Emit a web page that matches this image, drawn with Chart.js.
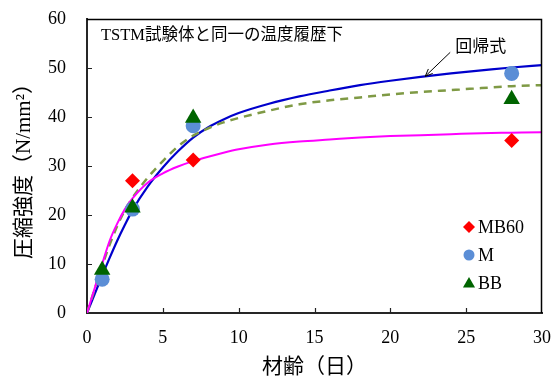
<!DOCTYPE html>
<html>
<head>
<meta charset="utf-8">
<script src="https://cdn.jsdelivr.net/npm/chart.js@4.4.1/dist/chart.umd.min.js"></script>
<style>
  html, body { margin: 0; padding: 0; background: #fff; }
</style>
</head>
<body>
<canvas id="c" width="556" height="376"></canvas>
<script>
// Measured compressive strength (N/mm²) by age (days)
const mb60Days = [3, 7, 28];
const mb60Strength = [27.0, 31.2, 35.2];
const testDays = [1, 3, 7, 28];
const mStrength = [6.9, 21.2, 38.2, 48.9];
const bbStrength = [8.8, 21.5, 39.8, 43.6];

// Regression curves (回帰式) sampled along the age axis
const curveAges = [0, 0.5, 1, 1.5, 2, 2.5, 3, 4, 5, 6, 7, 8, 9, 10, 12, 14, 16, 18, 20, 22, 24, 26, 28, 30];
const mFit    = [0, 3.8, 7.6, 11.3, 14.8, 18.0, 21.0, 25.8, 29.7, 33.0, 35.8, 37.9, 39.5, 40.8, 42.7, 44.2, 45.4, 46.5, 47.4, 48.2, 48.9, 49.5, 50.1, 50.6];
const mb60Fit = [0, 5.0, 10.0, 14.8, 18.3, 21.2, 23.4, 26.6, 28.5, 29.9, 31.0, 31.9, 32.7, 33.4, 34.4, 35.0, 35.4, 35.8, 36.1, 36.3, 36.5, 36.7, 36.8, 36.9];
const bbFit   = [0, 4.8, 9.6, 14.0, 17.8, 21.0, 23.5, 27.6, 31.0, 34.0, 36.2, 37.7, 38.9, 39.8, 41.3, 42.6, 43.4, 44.0, 44.6, 45.1, 45.5, 45.9, 46.3, 46.5];

// Axis ticks
const xTicks = [0, 5, 10, 15, 20, 25, 30];
const yTicks = [0, 10, 20, 30, 40, 50, 60];

const chartTitle = 'TSTM試験体と同一の温度履歴下';
const fitLabel = '回帰式';
const xTitle = '材齢（日）';
const yTitle = '圧縮強度（N/mm²）';

const SERIF = "'Liberation Serif', 'Noto Sans CJK JP', serif";
const GOTHIC = "'Noto Sans CJK JP', sans-serif";

const pts = (xs, ys) => xs.map((x, i) => ({ x: x, y: ys[i] }));

const curve = (label, ys, color, width, dash) => ({
  type: 'line', label: label, data: pts(curveAges, ys),
  borderColor: color, borderWidth: width, borderDash: dash || [],
  pointRadius: 0, showLine: true, fill: false,
  cubicInterpolationMode: 'monotone', order: 10
});

const markers = (label, xs, ys, style, color, radius, order) => ({
  type: 'line', label: label, data: pts(xs, ys), showLine: false,
  pointStyle: style, pointRadius: radius, pointBackgroundColor: color,
  pointBorderWidth: 0, pointBorderColor: color, order: order
});

const datasets = [
  curve('MB60 fit', mb60Fit, '#ff00ff', 2),
  curve('BB fit', bbFit, '#7f9a45', 2.5, [8, 6]),
  curve('M fit', mFit, '#0000cc', 2.2),
  markers('MB60', mb60Days, mb60Strength, 'rectRot', '#ff0000', 7.5, 2),
  markers('M', testDays, mStrength, 'circle', '#5b8ed6', 7.5, 1),
  markers('BB', testDays, bbStrength, 'triangle', '#006400', 9.5, 0)
];

// Frame, inner tick marks, heading, fit annotation and legend
const decorations = {
  id: 'decorations',
  afterDraw(chart) {
    const { ctx, chartArea: a, scales } = chart;
    const xs = scales.x, ys = scales.y;
    ctx.save();

    // top and right frame lines
    ctx.strokeStyle = '#000';
    ctx.lineWidth = 1.5;
    ctx.beginPath();
    ctx.moveTo(a.left, a.top + 0.5);
    ctx.lineTo(a.right - 0.5, a.top + 0.5);
    ctx.lineTo(a.right - 0.5, a.bottom);
    ctx.stroke();

    // inward tick marks
    ctx.strokeStyle = '#222';
    ctx.lineWidth = 1.2;
    ctx.beginPath();
    xTicks.slice(1, -1).forEach(v => {
      const px = Math.round(xs.getPixelForValue(v)) + 0.5;
      ctx.moveTo(px, a.bottom);
      ctx.lineTo(px, a.bottom - 5);
    });
    yTicks.slice(1, -1).forEach(v => {
      const py = Math.round(ys.getPixelForValue(v)) + 0.5;
      ctx.moveTo(a.left, py);
      ctx.lineTo(a.left + 5, py);
    });
    ctx.stroke();

    // heading inside the plot
    ctx.fillStyle = '#000';
    ctx.textBaseline = 'middle';
    ctx.textAlign = 'left';
    ctx.font = "16.5px " + SERIF;
    ctx.fillText(chartTitle, a.left + 14, a.top + 17);

    // annotation arrow pointing at the M regression curve
    const tipX = xs.getPixelForValue(22.3);
    const tipY = ys.getPixelForValue(48.3);
    const tailX = tipX + 25, tailY = tipY - 24;
    ctx.strokeStyle = '#000';
    ctx.lineWidth = 1;
    ctx.beginPath();
    ctx.moveTo(tailX, tailY);
    ctx.lineTo(tipX, tipY);
    ctx.stroke();
    const ang = Math.atan2(tipY - tailY, tipX - tailX);
    const hl = 8, hw = 0.4;
    ctx.beginPath();
    ctx.moveTo(tipX, tipY);
    ctx.lineTo(tipX - hl * Math.cos(ang - hw), tipY - hl * Math.sin(ang - hw));
    ctx.moveTo(tipX, tipY);
    ctx.lineTo(tipX - hl * Math.cos(ang + hw), tipY - hl * Math.sin(ang + hw));
    ctx.stroke();
    ctx.font = "17px " + GOTHIC;
    ctx.fillText(fitLabel, tailX + 5, tailY - 7);

    // legend for the measured points
    const items = [
      { text: 'MB60', style: 'rectRot', color: '#ff0000', r: 6 },
      { text: 'M', style: 'circle', color: '#5b8ed6', r: 5.5 },
      { text: 'BB', style: 'triangle', color: '#006400', r: 7 }
    ];
    ctx.font = "18px " + SERIF;
    items.forEach((it, i) => {
      const ly = a.bottom - 86 + i * 28;
      const lx = a.right - 73;
      ctx.fillStyle = it.color;
      Chart.helpers.drawPoint(ctx, { pointStyle: it.style, radius: it.r, rotation: 0, borderWidth: 0 }, lx, ly + (it.style === 'triangle' ? 1 : 0));
      ctx.fillStyle = '#000';
      ctx.fillText(it.text, lx + 9, ly + 1);
    });

    ctx.restore();
  }
};

// Invisible outer tick marks only reserve the gap between the frame and the labels
const hiddenGrid = len => ({
  display: true, drawOnChartArea: false, drawTicks: true,
  tickLength: len, color: 'rgba(0,0,0,0)'
});

new Chart(document.getElementById('c'), {
  type: 'line',
  data: { datasets: datasets },
  plugins: [decorations],
  options: {
    responsive: false,
    animation: false,
    events: [],
    layout: { padding: { top: 19, right: 14, left: 0, bottom: 0 } },
    plugins: { legend: { display: false }, tooltip: { enabled: false } },
    scales: {
      x: {
        type: 'linear', min: 0, max: 30,
        afterBuildTicks: s => { s.ticks = xTicks.map(v => ({ value: v })); },
        afterFit: s => { s.height = 63; },
        grid: hiddenGrid(12),
        border: { display: true, color: '#262626', width: 2 },
        ticks: { color: '#000', padding: 2, font: { family: SERIF, size: 18 }, maxRotation: 0 },
        title: {
          display: true, text: xTitle, color: '#000',
          font: { family: GOTHIC, size: 21, lineHeight: 1 },
          padding: { top: 0, bottom: 0 }
        }
      },
      y: {
        type: 'linear', min: 0, max: 60,
        afterBuildTicks: s => { s.ticks = yTicks.map(v => ({ value: v })); },
        afterFit: s => { s.width = 87; },
        grid: hiddenGrid(19),
        border: { display: true, color: '#262626', width: 2 },
        ticks: { color: '#000', padding: 2, font: { family: SERIF, size: 18 } },
        title: {
          display: true, text: yTitle, color: '#000',
          font: { family: SERIF, size: 21, lineHeight: 1 },
          padding: { top: 14, bottom: 0 }
        }
      }
    }
  }
});
</script>
</body>
</html>
